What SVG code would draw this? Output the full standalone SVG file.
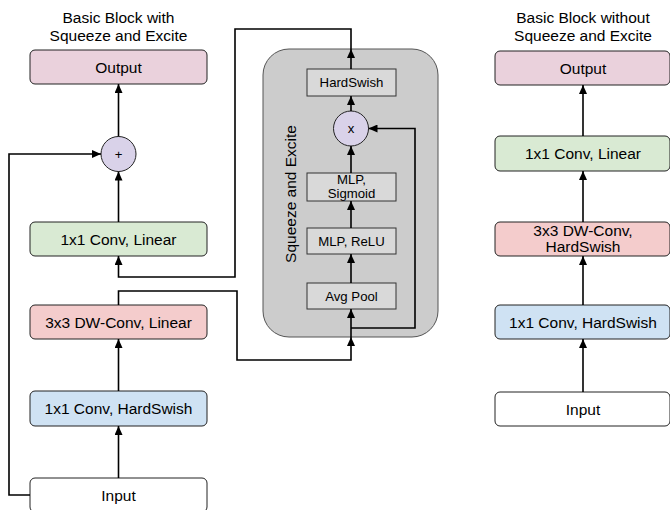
<svg xmlns="http://www.w3.org/2000/svg" width="670" height="510" viewBox="0 0 670 510">
<style>
text{font-family:"Liberation Sans",Arial,sans-serif;fill:#000;text-anchor:middle}
.t{font-size:15.5px}
.s{font-size:13.2px}
.box{stroke:#222;stroke-width:1}
.in{fill:#d9d9d9;stroke:#333;stroke-width:1}
.c{fill:none;stroke:#000;stroke-width:1.6}
</style>
<defs>
<marker id="ah" markerUnits="userSpaceOnUse" markerWidth="9" markerHeight="8" refX="9" refY="4" orient="auto">
<path d="M0,0 L9,4 L0,8 z" fill="#000"/>
</marker>
</defs>
<rect width="670" height="510" fill="#fff"/>

<text class="t" x="118.5" y="23">Basic Block with</text>
<text class="t" x="118.5" y="41">Squeeze and Excite</text>
<text class="t" x="583" y="23">Basic Block without</text>
<text class="t" x="583" y="41">Squeeze and Excite</text>

<g id="se-container">
<rect x="263" y="49" width="175" height="288" rx="26" fill="#cccccc" stroke="#555" stroke-width="1"/>
<text class="t" transform="translate(296,194) rotate(-90)">Squeeze and Excite</text>
</g>

<g id="l-output"><rect class="box" x="30" y="50" width="177" height="34" rx="5" fill="#ead1dc"/><text class="t" x="118.5" y="72.5">Output</text></g>
<g id="l-add"><circle cx="118.5" cy="154" r="17.5" fill="#d9d2e9" stroke="#222" stroke-width="1"/><text class="s" x="118.5" y="158.5">+</text></g>
<g id="l-conv-linear"><rect class="box" x="30" y="222" width="177" height="34" rx="5" fill="#d9ead3"/><text class="t" x="118.5" y="244.5">1x1 Conv, Linear</text></g>
<g id="l-dwconv"><rect class="box" x="30" y="305" width="177" height="34" rx="5" fill="#f4cccc"/><text class="t" x="118.5" y="327.5">3x3 DW-Conv, Linear</text></g>
<g id="l-conv-hs"><rect class="box" x="30" y="391" width="177" height="35" rx="5" fill="#cfe2f3"/><text class="t" x="118.5" y="414">1x1 Conv, HardSwish</text></g>
<g id="l-input"><rect class="box" x="30" y="478" width="177" height="34" rx="5" fill="#fff"/><text class="t" x="118.5" y="500.5">Input</text></g>

<g id="se-hardswish"><rect class="in" x="307" y="69" width="89" height="27"/><text class="s" x="351.5" y="87">HardSwish</text></g>
<g id="se-mult"><circle cx="351" cy="128.5" r="17.5" fill="#d9d2e9" stroke="#222" stroke-width="1"/><text class="s" x="351" y="133">x</text></g>
<g id="se-mlp-sig"><rect class="in" x="307" y="173" width="89" height="28"/><text class="s" x="351.5" y="184">MLP,</text><text class="s" x="351.5" y="198">Sigmoid</text></g>
<g id="se-mlp-relu"><rect class="in" x="307" y="228" width="89" height="26"/><text class="s" x="351.5" y="245.5">MLP, ReLU</text></g>
<g id="se-avgpool"><rect class="in" x="307" y="283" width="89" height="26"/><text class="s" x="351.5" y="300.5">Avg Pool</text></g>

<g id="r-output"><rect class="box" x="495" y="51" width="175" height="34" rx="5" fill="#ead1dc"/><text class="t" x="583" y="73.5">Output</text></g>
<g id="r-conv-linear"><rect class="box" x="495" y="136" width="175" height="35" rx="5" fill="#d9ead3"/><text class="t" x="583" y="159">1x1 Conv, Linear</text></g>
<g id="r-dwconv"><rect class="box" x="495" y="222" width="175" height="34" rx="5" fill="#f4cccc"/><text class="t" x="583" y="236">3x3 DW-Conv,</text><text class="t" x="583" y="252">HardSwish</text></g>
<g id="r-conv-hs"><rect class="box" x="495" y="305" width="175" height="34" rx="5" fill="#cfe2f3"/><text class="t" x="583" y="327.5">1x1 Conv, HardSwish</text></g>
<g id="r-input"><rect class="box" x="495" y="392" width="175" height="34" rx="5" fill="#fff"/><text class="t" x="583" y="414.5">Input</text></g>

<g id="connectors">
<path class="c" d="M118.5,478 V426" marker-end="url(#ah)"/>
<path class="c" d="M118.5,391 V339" marker-end="url(#ah)"/>
<path class="c" d="M118.5,305 V291 H237 V360 H351 V337" marker-end="url(#ah)"/>
<path class="c" d="M351,337 V309" marker-end="url(#ah)"/>
<path class="c" d="M351,328 H415 V128.5 H368.5" marker-end="url(#ah)"/>
<path class="c" d="M351,283 V254" marker-end="url(#ah)"/>
<path class="c" d="M351,228 V201" marker-end="url(#ah)"/>
<path class="c" d="M351,173 V146" marker-end="url(#ah)"/>
<path class="c" d="M351,111 V96" marker-end="url(#ah)"/>
<path class="c" d="M351,69 V49" marker-end="url(#ah)"/>
<path class="c" d="M351,49 V29 H235 V277 H118.5 V256" marker-end="url(#ah)"/>
<path class="c" d="M118.5,222 V171.5" marker-end="url(#ah)"/>
<path class="c" d="M118.5,136.5 V84" marker-end="url(#ah)"/>
<path class="c" d="M30,495 H9 V154 H101" marker-end="url(#ah)"/>
<path class="c" d="M583,392 V339" marker-end="url(#ah)"/>
<path class="c" d="M583,305 V256" marker-end="url(#ah)"/>
<path class="c" d="M583,222 V171" marker-end="url(#ah)"/>
<path class="c" d="M583,136 V85" marker-end="url(#ah)"/>
</g>
</svg>
